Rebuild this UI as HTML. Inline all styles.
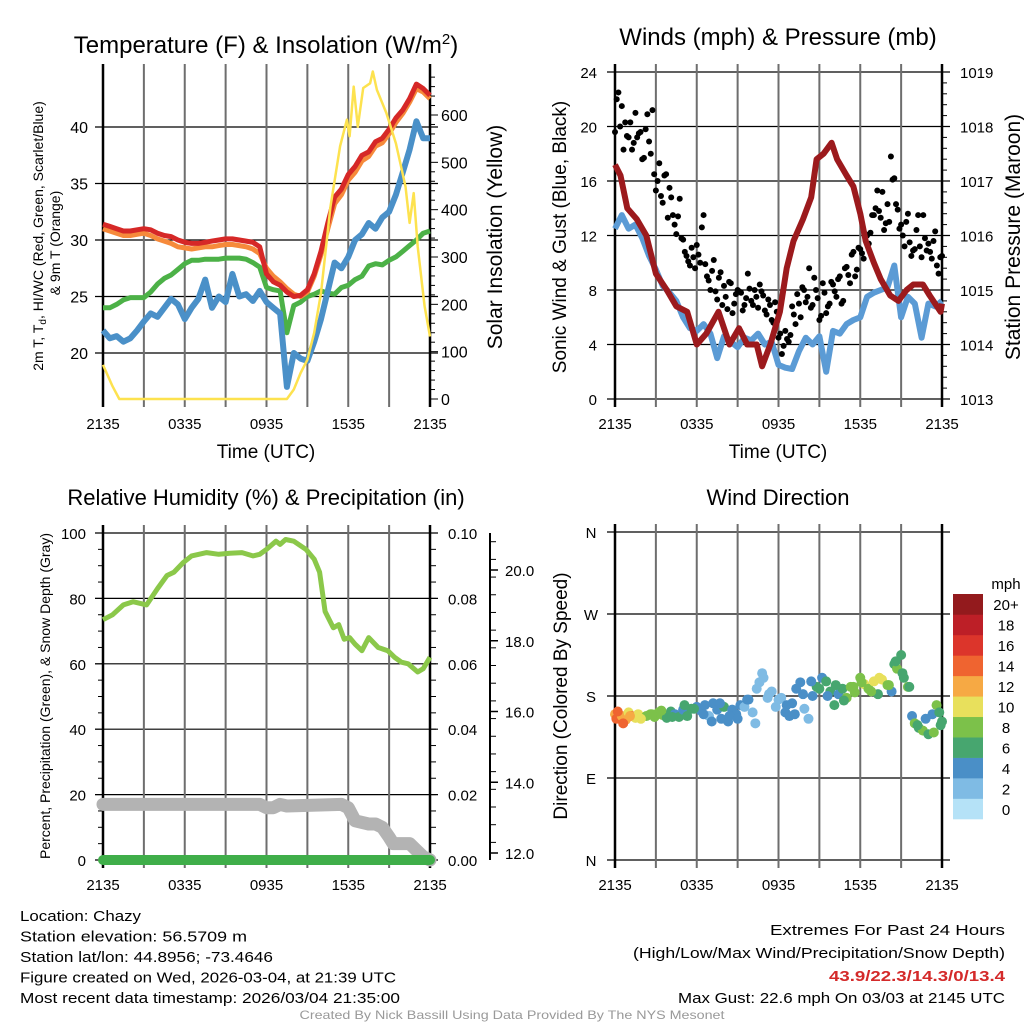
<!DOCTYPE html>
<html><head><meta charset="utf-8"><style>
html,body{margin:0;padding:0;background:#fff;}
svg{display:block;font-family:"Liberation Sans",sans-serif;}
</style></head><body>
<svg id="root" width="1024" height="1024" viewBox="0 0 1024 1024" xmlns="http://www.w3.org/2000/svg"></svg>
<script>
// ---------- DATA ----------
const hourTicks = [0,3,6,9,12,15,18,21,24];
const timeLabels = ["2135","0335","0935","1535","2135"];
const timeLabelHours = [0,6,12,18,24];
// Panel 1 (half-hourly)
const tempRed = [31.4,31.2,31.0,30.8,30.8,30.9,31.0,30.9,30.6,30.4,30.3,30.0,29.8,29.7,29.7,29.8,29.9,30.0,30.1,30.1,30.0,29.9,29.8,29.4,27.0,26.3,26.0,25.4,25.0,25.1,25.6,27.0,29.0,31.5,33.8,34.5,35.8,36.5,37.5,37.8,38.7,39.0,39.8,40.8,41.5,42.5,43.8,43.4,42.8];
const temp9m = [31.0,30.8,30.6,30.4,30.4,30.5,30.6,30.4,30.1,29.9,29.7,29.4,29.3,29.2,29.3,29.4,29.4,29.5,29.6,29.6,29.5,29.4,29.2,28.8,27.5,26.8,26.3,25.7,25.2,25.0,25.4,26.8,28.7,31.0,33.2,34.0,35.3,36.0,37.0,37.4,38.3,38.6,39.4,40.4,41.2,42.2,43.4,43.1,42.5];
const dewpoint = [24.0,24.0,24.3,24.7,24.9,24.9,24.9,25.4,26.1,26.6,26.9,27.4,27.9,28.2,28.2,28.3,28.3,28.3,28.4,28.4,28.4,28.3,28.0,27.6,25.8,25.6,25.5,21.8,24.2,24.5,25.0,25.2,25.5,25.3,25.2,25.8,26.0,26.5,26.8,27.7,27.9,27.8,28.2,28.5,29.0,29.5,30.0,30.6,30.8];
const windChill = [22.0,21.3,21.5,21.0,21.3,22.0,22.8,23.5,23.2,24.0,24.8,24.3,23.0,24.0,24.8,26.5,24.0,25.0,24.5,27.0,25.0,25.2,24.6,25.5,24.5,24.0,23.5,17.0,20.0,19.5,19.3,21.0,23.0,25.5,28.0,27.5,28.5,30.0,30.5,31.5,31.0,32.0,32.5,34.0,36.0,38.0,40.5,39.0,39.0];
const solarT = [0,0.7,1.2,13.5,14,14.5,15,15.5,16,16.7,17.4,17.9,18.1,18.4,18.7,19.1,19.6,19.8,20.1,20.8,21.5,22.2,22.5,22.8,23.1,23.6,24];
const solarV = [72,27,0,0,20,55,83,140,224,407,534,590,555,660,575,657,667,692,653,604,540,449,372,435,322,196,132];
const tempTicks = [20,25,30,35,40];
const solarTicks = [0,100,200,300,400,500,600];
// Panel 2
const sonicWind = [12.5,13.5,12.5,12.8,11.8,10.5,9.5,8.3,7.8,7.2,6.0,5.2,5.0,5.5,4.8,3.0,4.6,4.2,3.8,4.5,4.3,4.8,4.0,4.2,2.5,2.3,2.2,3.5,4.5,4.0,4.6,2.0,5.0,4.8,5.5,5.8,6.0,7.5,7.8,8.0,8.2,9.8,6.0,7.5,7.0,4.5,7.0,6.8,7.2];
const gustA = [19.6,22.5,21.5,20.3,19.2,18.3,21.0,19.5,17.6,19.8,18.9,21.2,15.3,17.3,14.4,16.5,15.5,13.5,12.1,14.7,11.7,10.5,9.8,10.4,11.3,10.0,13.5,9.0,8.0,10.2,7.3,9.3,8.3,6.6,8.5,7.0,8.0,7.8,6.9,9.2,7.2,8.0,6.7,7.9,6.5,7.3,5.8,7.1,4.5,3.3,5.0,4.2,6.8,5.5,7.0,8.2,7.1,9.6,6.9,8.0,5.8,8.5,6.3,7.0,8.4,7.5,9.0,7.2,9.7,8.5,10.8,9.5,11.0,10.3,12.0,12.2,13.5,15.3,13.3,12.4,14.3,17.8,16.2,13.9,12.8,11.2,13.6,10.5,11.0,13.5,10.4,11.8,11.4,10.3,12.3,9.2,10.5];
const gustB = [22.0,20.0,18.3,19.3,20.3,18.8,19.2,19.6,17.7,20.9,18.0,16.5,16.0,14.9,16.4,13.3,14.8,12.8,13.4,11.8,10.8,10.1,11.1,9.6,10.6,12.6,9.9,8.7,9.4,7.9,8.9,6.9,7.5,8.6,6.3,7.7,7.9,6.5,7.4,8.1,6.9,7.5,8.4,7.6,6.2,6.9,5.6,6.4,4.8,3.9,4.4,4.7,6.2,7.7,6.0,8.0,7.5,6.7,8.9,7.4,6.1,7.8,6.8,8.6,7.9,8.8,7.0,9.6,9.1,10.6,9.0,11.1,10.7,12.1,11.4,13.5,14.0,13.8,15.2,12.9,13.0,16.1,14.3,12.5,12.0,13.0,11.5,10.9,12.4,11.2,13.5,10.9,10.8,11.6,9.8,10.4];
const presT = [0,0.4,0.9,1.6,2.3,3,3.8,4.5,5.3,6,6.7,7.6,8,8.4,9.1,9.7,10.4,10.8,11.4,12.1,12.6,13.1,13.8,14.4,14.8,15.3,15.9,16.3,17,17.5,18,18.4,19,19.5,20.2,20.8,21.4,21.9,22.6,23.1,23.9,24];
const presV = [1017.3,1017.1,1016.5,1016.3,1016.0,1015.3,1015.0,1014.7,1014.6,1014.0,1014.2,1014.6,1014.3,1014.0,1014.3,1014.0,1014.0,1013.6,1014.0,1014.6,1015.4,1015.9,1016.3,1016.7,1017.4,1017.5,1017.7,1017.4,1017.1,1016.9,1016.4,1015.9,1015.5,1015.2,1014.9,1014.8,1015.0,1015.1,1015.1,1014.9,1014.6,1014.75];
const windTicks = [0,4,8,12,16,20,24];
const presTicks = [1013,1014,1015,1016,1017,1018,1019];
// Panel 3
const rhT = [0,0.7,1.5,2.2,3.2,4,4.7,5.2,5.9,6.5,7.6,8.5,9.3,10.2,11,11.5,12,12.7,13,13.4,14,14.9,15.5,15.9,16.3,16.9,17.3,17.7,18.1,18.5,19,19.5,20.2,20.9,21.4,21.9,22.4,23.1,23.5,24];
const rhV = [73.5,75,78,79,78,83,87,88,91,93,94,93.5,93.8,94,93,93.5,95,97.5,96.5,98,97.5,95,92,88,76,71,72,67.5,68,66,64,68,65,64,62,60.5,60,57.5,58.5,62];
const snowT = [0,11.5,12,12.5,13,13.5,17.5,18,18.5,19.5,20,20.5,21,21.3,22,22.5,23,23.5,24];
const snowV = [17,17,16,16,17,16.5,17,16,12,11,11,10,7,5,5,5,3,1,0];
const precipT = [0,24];
const precipV = [0,0];
const rhTicks = [0,20,40,60,80,100];
const precipTicks = ["0.00","0.02","0.04","0.06","0.08","0.10"];
const snowTicks = ["12.0","14.0","16.0","18.0","20.0"];
// Panel 4
const dirT = [0,0.1,0.3,0.5,0.8,1,1.2,1.5,1.7,2,2.3,2.6,2.9,3.2,3.5,3.8,4.1,4.4,4.7,5,5.3,5.6,6,6.3,6.6,6.9,7.2,7.5,7.8,8,8.3,8.6,8.9,9.2,9.5,9.8,10.1,10.3,10.6,10.9,11.2,11.5,11.8,12.2,12.5,12.8,13,13.3,13.6,13.9,14.2,14.5,14.8,15.2,15.5,15.8,16.1,16.4,16.7,17,17.3,17.6,18,18.3,18.6,19,19.3,19.6,20,20.3,20.5,20.7,21,21.2,21.5,21.8,22,22.3,22.6,23,23.3,23.6,23.9,24];
const dirV = [160,155,157,158,154,162,158,156,160,157,158,160,157,162,159,156,163,160,157,165,158,166,168,164,170,158,172,165,155,168,152,165,160,170,168,176,162,150,195,200,178,185,168,178,162,158,172,188,195,166,155,180,190,200,196,185,170,182,188,178,190,184,200,193,188,196,182,198,192,185,215,210,225,200,190,158,150,145,142,138,160,170,148,152];
const dirS = [12,14,15,13,12,10,14,11,10,10,8,8,9,8,8,6,7,5,6,5,7,6,4,4,4,3,4,4,5,6,4,4,4,4,3,4,3,2,2,2,2,3,2,3,4,4,4,4,4,3,2,4,6,4,6,6,6,5,6,8,8,8,9,10,9,11,6,10,8,4,6,8,6,6,8,4,8,6,8,6,4,8,6,6];
const dirT2 = [0.2,0.6,1.1,1.9,2.7,3.4,4.2,5.1,5.8,6.5,7.1,7.7,8.4,9.0,9.7,10.4,10.8,11.3,12.0,12.6,13.2,13.8,14.4,15.0,15.6,16.2,16.8,17.5,18.1,18.8,19.4,20.1,20.6,21.1,21.6,22.2,22.8,23.4,23.8];
const dirV2 = [163,150,158,155,160,164,157,170,166,160,152,172,158,155,176,188,205,182,176,170,160,182,196,188,180,192,175,190,195,185,200,192,218,205,190,148,155,140,162];
const dirS2 = [14,15,12,10,9,8,7,6,6,4,4,4,4,4,4,2,2,2,3,4,4,4,4,6,4,6,6,8,8,9,10,8,6,6,6,6,4,8,6];
const dirLabels = ["N","E","S","W","N"];
const cbarLabels = ["0","2","4","6","8","10","12","14","16","18","20+"];
const cbarColors = ["#b5e2f7","#7fbbe4","#4a8fc7","#47a66f","#7cc14a","#e8e05c","#f6a944","#ef6430","#dc352b","#bd1f27","#931a1d"];

// ---------- HELPERS ----------
const NS="http://www.w3.org/2000/svg";
const root=document.getElementById('root');
function mk(tag,attrs,parent){const e=document.createElementNS(NS,tag);for(const k in attrs)e.setAttribute(k,attrs[k]);(parent||root).appendChild(e);return e;}
function txt(s,x,y,size,anchor,parent,extra){const e=mk('text',Object.assign({x:x,y:y,'font-size':size,'text-anchor':anchor||'middle',fill:'#000'},extra||{}),parent);e.textContent=s;return e;}
function pathFrom(ts,vs,xf,yf){let d='';for(let i=0;i<ts.length;i++){d+=(i?'L':'M')+xf(ts[i]).toFixed(1)+' '+yf(vs[i]).toFixed(1);}return d;}
function halfHours(n){const a=[];for(let i=0;i<n;i++)a.push(i*0.5);return a;}

function frame(P,g){
  hourTicks.forEach((h,i)=>{
    const x=P.xs(h);
    const l=mk('line',{x1:x,x2:x,y1:P.y0-8,y2:P.y1+8,stroke:(i===0||i===8)?'#000':'#6e6e6e','stroke-width':(i===0||i===8)?2.5:2},g);
    
    
  });
  timeLabelHours.forEach((h,i)=>{
    const t=txt(timeLabels[i],P.xs(h),P.y1+30,15,'middle',g);
    
    
  });
}
function hgrid(P,g,yv){const l=mk('line',{x1:P.x0-8,x2:P.x1+8,y1:yv,y2:yv,stroke:'#000','stroke-width':1.2},g);}

// ---------- PANEL 1 ----------
(function(){
  const P={x0:103,x1:430,y0:72,y1:399};
  P.xs=h=>P.x0+h/24*(P.x1-P.x0);
  const yT=v=>353-(v-20)*(226/20);
  const yS=v=>399-v*(284/600);
  const g=mk('g',{});
  
  
  tempTicks.forEach(v=>{hgrid(P,g,yT(v));const t=txt(String(v),88,yT(v)+6,16,'end',g);});
  for(let v=0;v<=680;v+=20){const l=mk('line',{x1:P.x1,x2:P.x1+(v%100===0?8:5),y1:yS(v),y2:yS(v),stroke:'#000','stroke-width':1},g);}
  solarTicks.forEach(v=>{const t=txt(String(v),441,yS(v)+6,16,'start',g);});
  frame(P,g);
  const hh=halfHours(49);
  const s1=mk('path',{d:pathFrom(hh,dewpoint,P.xs,yT),fill:'none',stroke:'#4cb147','stroke-width':5,'stroke-linejoin':'round'},g);
  
  const s2=mk('path',{d:pathFrom(hh,windChill,P.xs,yT),fill:'none',stroke:'#4a90c8','stroke-width':6,'stroke-linejoin':'round'},g);
  
  const s3=mk('path',{d:pathFrom(hh,temp9m,P.xs,yT),fill:'none',stroke:'#f68a3b','stroke-width':5,'stroke-linejoin':'round'},g);
  
  const s4=mk('path',{d:pathFrom(hh,tempRed,P.xs,yT),fill:'none',stroke:'#d62827','stroke-width':5,'stroke-linejoin':'round'},g);
  
  const s5=mk('path',{d:pathFrom(solarT,solarV,P.xs,yS),fill:'none',stroke:'#fde24f','stroke-width':2.5,'stroke-linejoin':'round'},g);
  
  const ti=mk('text',{x:266,y:53,'font-size':24,'text-anchor':'middle'},g);
  ti.innerHTML='Temperature (F) &amp; Insolation (W/m<tspan dy="-9" font-size="15">2</tspan><tspan dy="9">)</tspan>';
  
  const xl=txt('Time (UTC)',266,458,19,'middle',g);
  const yl=mk('text',{x:0,y:0,'font-size':14,'text-anchor':'middle',transform:'translate(43,236) rotate(-90)'},g);
  yl.innerHTML='2m T, T<tspan dy="3" font-size="10">d</tspan><tspan dy="-3">, HI/WC (Red, Green, Scarlet/Blue)</tspan>';
  
  const yl2=txt('& 9m T (Orange)',0,0,14,'middle',g,{transform:'translate(60,243) rotate(-90)'});
  
  const yr=txt('Solar Insolation (Yellow)',0,0,21,'middle',g,{transform:'translate(502,237) rotate(-90)'});
  
})();

// ---------- PANEL 2 ----------
(function(){
  const P={x0:615,x1:942,y0:72,y1:399};
  P.xs=h=>P.x0+h/24*(P.x1-P.x0);
  const yW=v=>399-v*(327/24);
  const yP=v=>399-(v-1013)*(327/6);
  const g=mk('g',{});
  
  
  windTicks.forEach(v=>{hgrid(P,g,yW(v));const t=txt(String(v),597,yW(v)+6,15,'end',g);});
  for(let v=1013;v<=1019.001;v+=0.2){const l=mk('line',{x1:P.x1,x2:P.x1+(Math.abs(v-Math.round(v))<0.01?8:5),y1:yP(v),y2:yP(v),stroke:'#000','stroke-width':1},g);}
  presTicks.forEach(v=>{const t=txt(String(v),960,yP(v)+6,15,'start',g);});
  frame(P,g);
  const hh=halfHours(49);
  const w=mk('path',{d:pathFrom(hh,sonicWind,P.xs,yW),fill:'none',stroke:'#5b9bd5','stroke-width':6,'stroke-linejoin':'round'},g);
  
  gustA.forEach((v,i)=>{const c=mk('circle',{cx:P.xs(i*0.25),cy:yW(v),r:3,fill:'#000'},g);});
  gustB.forEach((v,i)=>{const c=mk('circle',{cx:P.xs(0.125+i*0.25),cy:yW(v),r:3,fill:'#000'},g);});
  const p=mk('path',{d:pathFrom(presT,presV,P.xs,yP),fill:'none',stroke:'#9c1a1d','stroke-width':6,'stroke-linejoin':'round'},g);
  
  const ti=txt('Winds (mph) & Pressure (mb)',778,45,24,'middle',g);
  const xl=txt('Time (UTC)',778,458,19,'middle',g);
  const yl=txt('Sonic Wind & Gust (Blue, Black)',0,0,19,'middle',g,{transform:'translate(566,237) rotate(-90)'});
  const yr=txt('Station Pressure (Maroon)',0,0,21,'middle',g,{transform:'translate(1020,237) rotate(-90)'});
})();

// ---------- PANEL 3 ----------
(function(){
  const P={x0:103,x1:430,y0:533,y1:860};
  P.xs=h=>P.x0+h/24*(P.x1-P.x0);
  const yR=v=>860-v*3.27;
  const ySn=v=>853-(v-12)*(283/8);
  const g=mk('g',{});
  
  
  rhTicks.forEach((v,i)=>{hgrid(P,g,yR(v));const t=txt(String(v),86,yR(v)+6,15,'end',g);
    const t2=txt(precipTicks[i],448,yR(v)+6,15,'start',g);});
  for(let v=0;v<=100;v+=5){const l=mk('line',{x1:P.x1,x2:P.x1+6,y1:yR(v),y2:yR(v),stroke:'#000','stroke-width':1},g);
    const l2=mk('line',{x1:P.x0-(v%20===0?8:5),x2:P.x0,y1:yR(v),y2:yR(v),stroke:'#000','stroke-width':1},g);}
  const ax=mk('line',{x1:490,x2:490,y1:533,y2:860,stroke:'#000','stroke-width':2},g);
  for(let v=11.8;v<=21.2;v+=0.5){const y=ySn(v);if(y<533||y>860)continue;const l=mk('line',{x1:490,x2:496,y1:y,y2:y,stroke:'#000','stroke-width':1},g);}
  snowTicks.forEach(s=>{const v=parseFloat(s);const l=mk('line',{x1:490,x2:498,y1:ySn(v),y2:ySn(v),stroke:'#000','stroke-width':1.5},g);
    const t=txt(s,505,ySn(v)+6,15,'start',g);});
  frame(P,g);
  const sn=mk('path',{d:pathFrom(snowT,snowV,P.xs,yR),fill:'none',stroke:'#b3b3b3','stroke-width':13,'stroke-linejoin':'round','stroke-linecap':'round'},g);
  
  const pr=mk('path',{d:pathFrom(precipT,precipV,P.xs,yR),fill:'none',stroke:'#3fae49','stroke-width':10,'stroke-linecap':'round'},g);
  
  const rh=mk('path',{d:pathFrom(rhT,rhV,P.xs,yR),fill:'none',stroke:'#8bc84a','stroke-width':5,'stroke-linejoin':'round'},g);
  
  const ti=txt('Relative Humidity (%) & Precipitation (in)',266,505,22,'middle',g);
  const yl=txt('Percent, Precipitation (Green), & Snow Depth (Gray)',0,0,14,'middle',g,{transform:'translate(50,696) rotate(-90)'});
})();

// ---------- PANEL 4 ----------
(function(){
  const P={x0:615,x1:942,y0:532,y1:860};
  P.xs=h=>P.x0+h/24*(P.x1-P.x0);
  const yD=v=>860-v*(328/360);
  const g=mk('g',{});
  
  
  dirLabels.forEach((s,i)=>{const y=yD(i*90);hgrid(P,g,y);const t=txt(s,591,y+6,15,'middle',g);});
  frame(P,g);
  function colorFor(s){let i=Math.floor(s/2);if(i<0)i=0;if(i>10)i=10;return cbarColors[i];}
  dirT.forEach((t,i)=>{const c=mk('circle',{cx:P.xs(t),cy:yD(dirV[i]),r:5,fill:colorFor(dirS[i])},g);});
  dirT2.forEach((t,i)=>{const c=mk('circle',{cx:P.xs(t),cy:yD(dirV2[i]),r:5,fill:colorFor(dirS2[i])},g);});
  const ti=txt('Wind Direction',778,505,22,'middle',g);
  const yl=txt('Direction (Colored By Speed)',0,0,19,'middle',g,{transform:'translate(567,696) rotate(-90)'});
  const cb=mk('g',{},g);
  const bh=225/cbarColors.length;
  cbarColors.forEach((c,i)=>{const y=819-(i+1)*bh;const r=mk('rect',{x:953,y:y,width:30,height:bh+0.3,fill:c},cb);
    const t=txt(cbarLabels[i],1006,y+bh/2+6,15,'middle',cb);});
  const mph=txt('mph',1006,589,15,'middle',cb);
})();

// ---------- FOOTER TEXT ----------
const infoLines=["Location: Chazy","Station elevation: 56.5709 m","Station lat/lon: 44.8956; -73.4646","Figure created on Wed, 2026-03-04, at 21:39 UTC","Most recent data timestamp: 2026/03/04 21:35:00"];
const infoWidths=[121,227,253,376,380];
infoLines.forEach((s,i)=>{const t=txt(s,20,921+i*20.5,15,'start',null,{textLength:infoWidths[i],lengthAdjust:'spacingAndGlyphs'});});
const ex1=txt('Extremes For Past 24 Hours',1005,935,15,'end',null,{textLength:235,lengthAdjust:'spacingAndGlyphs'});
const ex2=txt('(High/Low/Max Wind/Precipitation/Snow Depth)',1005,958,15,'end',null,{textLength:372,lengthAdjust:'spacingAndGlyphs'});
const ex3=txt('43.9/22.3/14.3/0/13.4',1005,981,15,'end',null,{fill:'#d42a2a','font-weight':'bold',textLength:176,lengthAdjust:'spacingAndGlyphs'});
const ex4=txt('Max Gust: 22.6 mph On 03/03 at 2145 UTC',1005,1003,15,'end',null,{textLength:327,lengthAdjust:'spacingAndGlyphs'});
const cr=txt('Created By Nick Bassill Using Data Provided By The NYS Mesonet',512,1019,12,'middle',null,{fill:'#999',textLength:425,lengthAdjust:'spacingAndGlyphs'});
</script>
</body></html>
